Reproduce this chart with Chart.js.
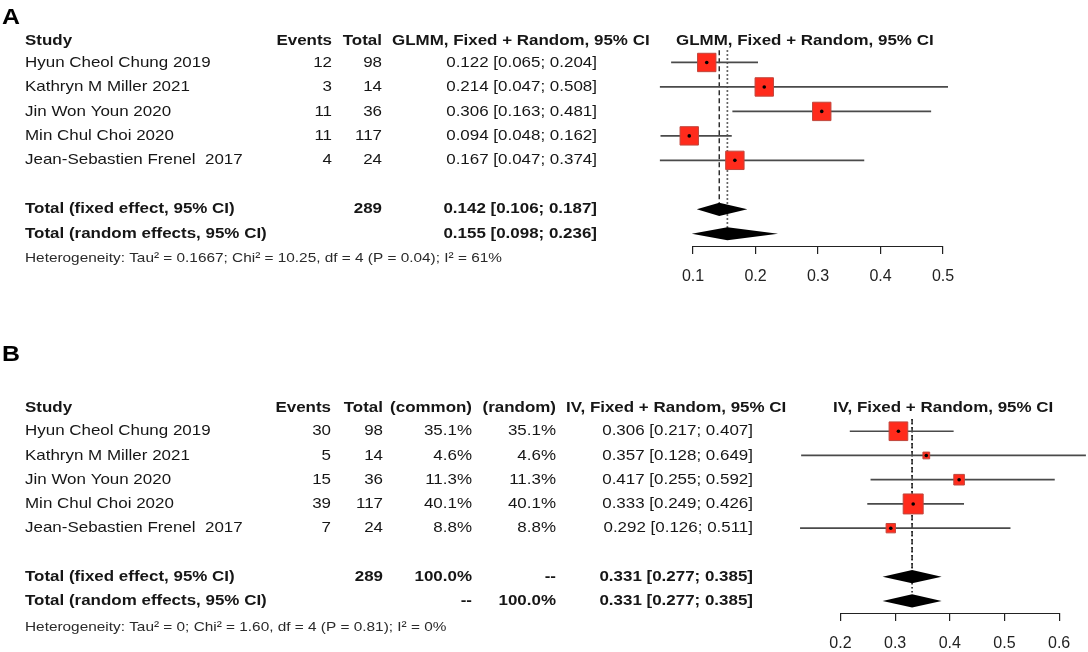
<!DOCTYPE html>
<html>
<head>
<meta charset="utf-8">
<script src="https://cdn.jsdelivr.net/npm/chart.js@4.4.0/dist/chart.umd.min.js"></script>
<style>
  body { margin: 0; background: #fff; }
  .panel { position: absolute; left: 0; width: 1088px; height: 326px; }
</style>
</head>
<body>
<div class="panel" style="top:0"><canvas id="chartA"></canvas></div>
<div class="panel" style="top:326px"><canvas id="chartB"></canvas></div>
<script>
// studies (same five in both panels)
const studies = ['Hyun Cheol Chung 2019', 'Kathryn M Miller 2021', 'Jin Won Youn 2020', 'Min Chul Choi 2020', 'Jean-Sebastien Frenel  2017'];

// panel A - GLMM
const eventsA = [12, 3, 11, 11, 4];
const totalsA = [98, 14, 36, 117, 24];
const estA = [0.122, 0.214, 0.306, 0.094, 0.167];
const lowerA = [0.065, 0.047, 0.163, 0.048, 0.047];
const upperA = [0.204, 0.508, 0.481, 0.162, 0.374];
const pooledEstA = [0.142, 0.155];     // fixed, random
const pooledLowerA = [0.106, 0.098];
const pooledUpperA = [0.187, 0.236];
const ticksA = [0.1, 0.2, 0.3, 0.4, 0.5];
const hetA = 'Heterogeneity: Tau\u00b2 = 0.1667; Chi\u00b2 = 10.25, df = 4 (P = 0.04); I\u00b2 = 61%';

// panel B - inverse variance
const eventsB = [30, 5, 15, 39, 7];
const totalsB = [98, 14, 36, 117, 24];
const weightCommonB = [35.1, 4.6, 11.3, 40.1, 8.8];
const weightRandomB = [35.1, 4.6, 11.3, 40.1, 8.8];
const pooledWeightB = [100.0, 100.0];  // common, random
const estB = [0.306, 0.357, 0.417, 0.333, 0.292];
const lowerB = [0.217, 0.128, 0.255, 0.249, 0.126];
const upperB = [0.407, 0.649, 0.592, 0.426, 0.511];
const pooledEstB = [0.331, 0.331];
const pooledLowerB = [0.277, 0.277];
const pooledUpperB = [0.385, 0.385];
const ticksB = [0.2, 0.3, 0.4, 0.5, 0.6];
const hetB = 'Heterogeneity: Tau\u00b2 = 0; Chi\u00b2 = 1.60, df = 4 (P = 0.81); I\u00b2 = 0%';

const FAMILY = '"Liberation Sans", Arial, Helvetica, sans-serif';
const STRETCH = 1.13;
const TEXT = '#161616';
const REG = '15px ' + FAMILY;
const BOLD = 'bold 15px ' + FAMILY;
const SMALL = '13.6px ' + FAMILY;
const FIXED_ROW = 6, RANDOM_ROW = 7;

const fmtCI = (e, l, u) => e.toFixed(3) + ' [' + l.toFixed(3) + '; ' + u.toFixed(3) + ']';
const sum = arr => arr.reduce((a, b) => a + b, 0);

function txt(ctx, s, x, y, align, font, color) {
  ctx.save();
  ctx.font = font;
  ctx.fillStyle = color || TEXT;
  ctx.textAlign = align;
  ctx.textBaseline = 'middle';
  ctx.translate(x, y);
  ctx.scale(STRETCH, 1);
  ctx.fillText(s, 0, 0);
  ctx.restore();
}

function studyDatasets(est, lower, upper, radii) {
  const sets = [];
  sets.push({ // centre dots
    data: est.map((v, i) => ({ x: v, y: i })),
    pointStyle: 'circle', pointRadius: 1.8, backgroundColor: '#000', borderWidth: 0, order: 0
  });
  sets.push({ // weighted squares
    data: est.map((v, i) => ({ x: v, y: i })),
    pointStyle: 'rect', pointRadius: radii, backgroundColor: '#ff2b1c',
    borderColor: '#c0463c', borderWidth: 1, order: 1
  });
  lower.forEach((l, i) => sets.push({ // confidence intervals
    data: [{ x: l, y: i }, { x: upper[i], y: i }],
    showLine: true, borderColor: '#4a4a4a', borderWidth: 1.7, pointRadius: 0, order: 3
  }));
  return sets;
}

function refLines(pooledEst, stops) {
  // vertical lines for the fixed (dashed) and random (dotted) estimates
  return [
    { data: [{ x: pooledEst[0], y: -0.5 }, { x: pooledEst[0], y: stops[0] }],
      showLine: true, borderColor: '#222', borderWidth: 1.4, borderDash: [5, 3], pointRadius: 0, order: 4 },
    { data: [{ x: pooledEst[1], y: -0.5 }, { x: pooledEst[1], y: stops[1] }],
      showLine: true, borderColor: '#333', borderWidth: 1.7, borderDash: [1.5, 2.5], pointRadius: 0, order: 5 }
  ];
}

function diamondPlugin(pEst, pLow, pUp) {
  return {
    id: 'diamonds',
    afterDatasetsDraw(chart) {
      const { ctx, scales: { x, y } } = chart;
      [FIXED_ROW, RANDOM_ROW].forEach((row, k) => {
        const cy = y.getPixelForValue(row);
        const h = Math.abs(y.getPixelForValue(row + 0.27) - cy);
        ctx.save();
        ctx.beginPath();
        ctx.moveTo(x.getPixelForValue(pLow[k]), cy);
        ctx.lineTo(x.getPixelForValue(pEst[k]), cy - h);
        ctx.lineTo(x.getPixelForValue(pUp[k]), cy);
        ctx.lineTo(x.getPixelForValue(pEst[k]), cy + h);
        ctx.closePath();
        ctx.fillStyle = '#000';
        ctx.fill();
        ctx.restore();
      });
    }
  };
}

function axisLinePlugin(ticks) {
  return {
    id: 'axisLine',
    afterDraw(chart) {
      const { ctx, chartArea, scales: { x } } = chart;
      ctx.save();
      ctx.strokeStyle = '#222';
      ctx.lineWidth = 1.2;
      ctx.beginPath();
      ctx.moveTo(x.getPixelForValue(ticks[0]), chartArea.bottom + 0.5);
      ctx.lineTo(x.getPixelForValue(ticks[ticks.length - 1]), chartArea.bottom + 0.5);
      ctx.stroke();
      ctx.restore();
    }
  };
}

function baseOptions(xmin, xmax, ticks, padding, ymax) {
  return {
    responsive: true,
    maintainAspectRatio: false,
    animation: false,
    events: [],
    layout: { padding, autoPadding: false },
    plugins: { legend: { display: false }, tooltip: { enabled: false } },
    scales: {
      x: {
        type: 'linear', min: xmin, max: xmax,
        afterBuildTicks: s => { s.ticks = ticks.map(v => ({ value: v })); },
        afterFit: s => { s.height = 36; s.paddingLeft = 0; s.paddingRight = 0; },
        border: { display: false },
        grid: { drawOnChartArea: false, drawTicks: true, tickLength: 8, color: '#222', lineWidth: 1.2 },
        ticks: { padding: 13, autoSkip: false, maxRotation: 0, color: '#222',
                 font: { size: 16, family: FAMILY }, callback: v => v.toFixed(1) }
      },
      y: { type: 'linear', min: -1, max: ymax, reverse: true, display: false }
    }
  };
}

// ---------- panel A ----------
const tableA = {
  id: 'tableA',
  afterDraw(chart) {
    const ctx = chart.ctx, y = chart.scales.y;
    const row = i => y.getPixelForValue(i);
    txt(ctx, 'A', 2, 18, 'left', 'bold 22px ' + FAMILY, '#000');
    const hy = row(-0.9);
    txt(ctx, 'Study', 25, hy, 'left', BOLD);
    txt(ctx, 'Events', 332, hy, 'right', BOLD);
    txt(ctx, 'Total', 382, hy, 'right', BOLD);
    txt(ctx, 'GLMM, Fixed + Random, 95% CI', 392, hy, 'left', BOLD);
    txt(ctx, 'GLMM, Fixed + Random, 95% CI', 676, hy, 'left', BOLD);
    studies.forEach((s, i) => {
      const ry = row(i);
      txt(ctx, s, 25, ry, 'left', REG);
      txt(ctx, String(eventsA[i]), 332, ry, 'right', REG);
      txt(ctx, String(totalsA[i]), 382, ry, 'right', REG);
      txt(ctx, fmtCI(estA[i], lowerA[i], upperA[i]), 597, ry, 'right', REG);
    });
    const fy = row(FIXED_ROW), ry = row(RANDOM_ROW);
    txt(ctx, 'Total (fixed effect, 95% CI)', 25, fy, 'left', BOLD);
    txt(ctx, String(sum(totalsA)), 382, fy, 'right', BOLD);
    txt(ctx, fmtCI(pooledEstA[0], pooledLowerA[0], pooledUpperA[0]), 597, fy, 'right', BOLD);
    txt(ctx, 'Total (random effects, 95% CI)', 25, ry, 'left', BOLD);
    txt(ctx, fmtCI(pooledEstA[1], pooledLowerA[1], pooledUpperA[1]), 597, ry, 'right', BOLD);
    txt(ctx, hetA, 25, row(8), 'left', SMALL, '#2a2a2a');
  }
};

new Chart(document.getElementById('chartA'), {
  type: 'scatter',
  data: {
    datasets: [
      ...studyDatasets(estA, lowerA, upperA, estA.map(() => 13)),
      ...refLines(pooledEstA, [FIXED_ROW, RANDOM_ROW])
    ]
  },
  options: baseOptions(0.03, 0.53, ticksA, { left: 649.25, right: 126.25, top: 38, bottom: 44 }, 7.5),
  plugins: [diamondPlugin(pooledEstA, pooledLowerA, pooledUpperA), axisLinePlugin(ticksA), tableA]
});

// ---------- panel B ----------
const tableB = {
  id: 'tableB',
  afterDraw(chart) {
    const ctx = chart.ctx, y = chart.scales.y;
    const row = i => y.getPixelForValue(i);
    txt(ctx, 'B', 2, 29, 'left', 'bold 22px ' + FAMILY, '#000');
    const hy = row(-0.95);
    txt(ctx, 'Study', 25, hy, 'left', BOLD);
    txt(ctx, 'Events', 331, hy, 'right', BOLD);
    txt(ctx, 'Total', 383, hy, 'right', BOLD);
    txt(ctx, '(common)', 472, hy, 'right', BOLD);
    txt(ctx, '(random)', 556, hy, 'right', BOLD);
    txt(ctx, 'IV, Fixed + Random, 95% CI', 566, hy, 'left', BOLD);
    txt(ctx, 'IV, Fixed + Random, 95% CI', 833, hy, 'left', BOLD);
    studies.forEach((s, i) => {
      const ry = row(i);
      txt(ctx, s, 25, ry, 'left', REG);
      txt(ctx, String(eventsB[i]), 331, ry, 'right', REG);
      txt(ctx, String(totalsB[i]), 383, ry, 'right', REG);
      txt(ctx, weightCommonB[i].toFixed(1) + '%', 472, ry, 'right', REG);
      txt(ctx, weightRandomB[i].toFixed(1) + '%', 556, ry, 'right', REG);
      txt(ctx, fmtCI(estB[i], lowerB[i], upperB[i]), 753, ry, 'right', REG);
    });
    const fy = row(FIXED_ROW), ry = row(RANDOM_ROW);
    txt(ctx, 'Total (fixed effect, 95% CI)', 25, fy, 'left', BOLD);
    txt(ctx, String(sum(totalsB)), 383, fy, 'right', BOLD);
    txt(ctx, pooledWeightB[0].toFixed(1) + '%', 472, fy, 'right', BOLD);
    txt(ctx, '--', 556, fy, 'right', BOLD);
    txt(ctx, fmtCI(pooledEstB[0], pooledLowerB[0], pooledUpperB[0]), 753, fy, 'right', BOLD);
    txt(ctx, 'Total (random effects, 95% CI)', 25, ry, 'left', BOLD);
    txt(ctx, '--', 472, ry, 'right', BOLD);
    txt(ctx, pooledWeightB[1].toFixed(1) + '%', 556, ry, 'right', BOLD);
    txt(ctx, fmtCI(pooledEstB[1], pooledLowerB[1], pooledUpperB[1]), 753, ry, 'right', BOLD);
    txt(ctx, hetB, 25, row(8.1), 'left', SMALL, '#2a2a2a');
  }
};

new Chart(document.getElementById('chartB'), {
  type: 'scatter',
  data: {
    datasets: [
      ...studyDatasets(estB, lowerB, upperB, weightCommonB.map(w => 2.23 * Math.sqrt(w))),
      ...refLines(pooledEstB, [FIXED_ROW, RANDOM_ROW])
    ]
  },
  options: baseOptions(0.11, 0.651, ticksB, { left: 791.3, right: 1, top: 81, bottom: 3 }, 7.5),
  plugins: [diamondPlugin(pooledEstB, pooledLowerB, pooledUpperB), axisLinePlugin(ticksB), tableB]
});
</script>
</body>
</html>
